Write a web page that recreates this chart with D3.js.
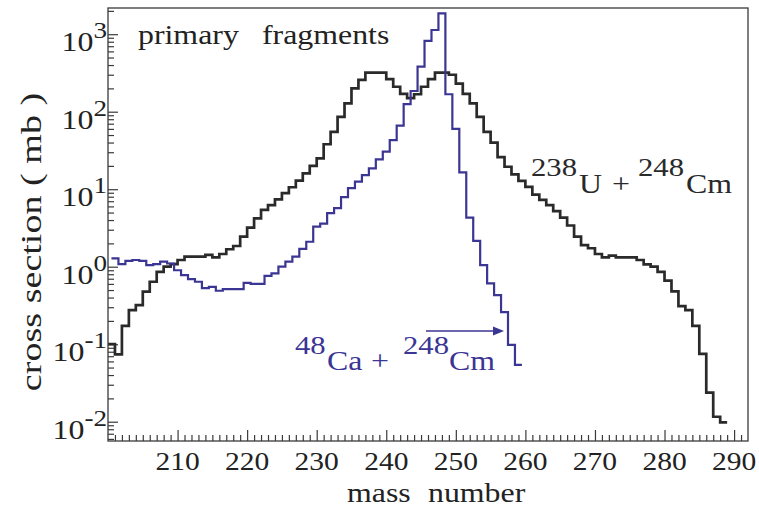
<!DOCTYPE html>
<meta charset="utf-8">
<html>
<title>Primary fragments</title>
<body style="margin:0;background:#fff">
<script src="https://d3js.org/d3.v7.min.js"></script>
<div id="chart"></div>
<script>

// cross sections (mb) per unit mass bin
// 238U + 248Cm : bins [A, A+1], first bin starts at 200
var uCmFirstEdge = 200;
var uCmXsec = [
  0.10, 0.074, 0.172, 0.276, 0.32, 0.476, 0.64, 0.86, 1.0, 1.08,
  1.22, 1.35, 1.35, 1.35, 1.42, 1.32, 1.46, 1.68, 1.85, 2.44,
  3.2, 4.2, 5.4, 6.25, 7.4, 8.9, 10.6, 12.9, 16, 20,
  25, 38, 55, 86, 128, 200, 257, 320, 320, 320,
  264, 210, 170, 150, 168, 210, 264, 320, 320, 300,
  230, 170, 128, 86, 55, 40, 26, 19.5, 15.5, 12.8,
  10.7, 8.5, 7.3, 6.25, 5.2, 4.3, 3.4, 2.44, 1.9, 1.73,
  1.46, 1.32, 1.39, 1.32, 1.32, 1.32, 1.22, 1.07, 1.0, 0.86,
  0.66, 0.48, 0.31, 0.276, 0.172, 0.075, 0.0237, 0.0116, 0.0098
];

// 48Ca + 248Cm : bins centred on the mass number, first bin starts at 200.5
var caCmFirstEdge = 200.5;
var caCmXsec = [
  1.28, 1.08, 1.19, 1.22, 1.19, 1.05, 1.08, 1.16, 1.1, 0.9,
  0.78, 0.69, 0.64, 0.53, 0.55, 0.49, 0.515, 0.515, 0.515, 0.62,
  0.6, 0.6, 0.76, 0.82, 1.0, 1.16, 1.35, 1.7, 2.1, 3.3,
  3.6, 4.9, 5.7, 7.9, 10.3, 12.5, 15.2, 18.6, 24.3, 30.5,
  43, 66, 125, 185, 381, 820, 1133, 1860, 168, 60,
  16.5, 4.3, 2.15, 1.05, 0.61, 0.43, 0.26, 0.098, 0.054
];

var xRange = [200, 292];
var xTicks = [210, 220, 230, 240, 250, 260, 270, 280, 290];
var yRange = [0.00564, 2178];
var yTickExps = [-2, -1, 0, 1, 2, 3];

var W = 759, H = 509;
var margin = {top: 8, right: 11, bottom: 68, left: 108},
    width = W - margin.left - margin.right,
    height = H - margin.top - margin.bottom;

var serif = "'Liberation Serif', 'Times New Roman', serif";
var stretch = 1.18;
var black = "#2a2a2a", blue = "#3b3594";

var svg = d3.select("#chart")
  .append("svg")
    .attr("width", W)
    .attr("height", H);

var g = svg.append("g")
    .attr("transform", "translate(" + margin.left + "," + margin.top + ")");

var x = d3.scaleLinear().domain(xRange).range([0, width]);
var y = d3.scaleLog().domain(yRange).range([height, 0]);

g.append("clipPath").attr("id", "clip")
  .append("rect").attr("width", width).attr("height", height);

// ticks, pointing into the frame
var minorX = d3.range(Math.ceil(xRange[0]) + 1, xRange[1]).filter(function(d) { return d % 10 != 0; });
g.append("g")
    .attr("transform", "translate(0," + height + ")")
    .call(d3.axisBottom(x).tickValues(minorX).tickSize(-6).tickFormat(""));
g.append("g")
    .attr("transform", "translate(0," + height + ")")
    .call(d3.axisBottom(x).tickValues(xTicks).tickSize(-11).tickFormat(""));

var minorY = [];
for (var e = -3; e <= 3; e++) {
  for (var k = 2; k <= 9; k++) {
    var v = k * Math.pow(10, e);
    if (v > yRange[0] && v < yRange[1]) minorY.push(v);
  }
}
g.append("g")
    .call(d3.axisLeft(y).tickValues(minorY).tickSize(-6).tickFormat(""));
g.append("g")
    .call(d3.axisLeft(y).tickValues(yTickExps.map(function(e) { return Math.pow(10, e); }))
      .tickSize(-10).tickFormat(""));

g.selectAll(".domain").remove();
g.selectAll(".tick line").attr("stroke", "#3a3a3a").attr("stroke-width", 1.2);

// histograms
function steps(first, values) {
  var pts = [];
  values.forEach(function(v, i) {
    pts.push([first + i, v]);
    pts.push([first + i + 1, v]);
  });
  return pts;
}
var line = d3.line()
    .x(function(d) { return x(d[0]); })
    .y(function(d) { return y(d[1]); });

var hist = g.append("g").attr("clip-path", "url(#clip)");
hist.append("path")
    .attr("d", line(steps(uCmFirstEdge, uCmXsec)))
    .attr("fill", "none")
    .attr("stroke", black)
    .attr("stroke-width", 2.7);
hist.append("path")
    .attr("d", line(steps(caCmFirstEdge, caCmXsec)))
    .attr("fill", "none")
    .attr("stroke", blue)
    .attr("stroke-width", 2.2);

// frame
g.append("rect")
    .attr("width", width)
    .attr("height", height)
    .attr("fill", "none")
    .attr("stroke", "#3a3a3a")
    .attr("stroke-width", 1.3);

// texts
function label(parent, px, py, txt, size, anchor, fill, rot, sx) {
  return parent.append("text")
    .attr("transform", "translate(" + px + "," + py + ")" + (rot ? " rotate(" + rot + ")" : "") +
          " scale(" + (sx || stretch) + ",1)")
    .attr("text-anchor", anchor || "start")
    .style("font-family", serif)
    .style("font-size", size + "px")
    .attr("fill", fill || "#222")
    .text(txt);
}

xTicks.forEach(function(t) {
  label(g, x(t), height + 29, t, 25, "middle");
});

yTickExps.forEach(function(e) {
  var t = g.append("text")
    .attr("transform", "translate(-1," + (y(Math.pow(10, e)) + 17) + ") scale(" + stretch + ",1)")
    .attr("text-anchor", "end")
    .style("font-family", serif)
    .attr("fill", "#222");
  t.append("tspan").style("font-size", "27px").text("10");
  t.append("tspan").style("font-size", "23px").attr("dy", -13).text(e < 0 ? "-" + (-e) : e);
});

label(svg, 347, 502, "mass", 27);
label(svg, 428, 502, "number", 27);
label(svg, 41, 242, "cross section ( mb )", 30, "middle", "#222", -90, 1.27);

label(svg, 138, 44, "primary", 27);
label(svg, 262, 44, "fragments", 27);

// reaction labels
label(svg, 531, 176, "238", 26, "start", black);
label(svg, 579, 193, "U", 27, "start", black);
label(svg, 612, 193, "+", 27, "start", black);
label(svg, 638, 176, "248", 26, "start", black);
label(svg, 686, 193, "Cm", 27, "start", black);

label(svg, 295, 354, "48", 26, "start", blue);
label(svg, 327, 370, "Ca", 27, "start", blue);
label(svg, 371, 370, "+", 27, "start", blue);
label(svg, 403, 354, "248", 26, "start", blue);
label(svg, 449, 370, "Cm", 27, "start", blue);

// arrow towards the 48Ca + 248Cm histogram
svg.append("line")
    .attr("x1", 426).attr("y1", 331)
    .attr("x2", 496).attr("y2", 331)
    .attr("stroke", blue)
    .attr("stroke-width", 1.5);
svg.append("path")
    .attr("d", "M493,326.5 L504,331 L493,335.5 Z")
    .attr("fill", blue);

</script>
</body>
</html>
